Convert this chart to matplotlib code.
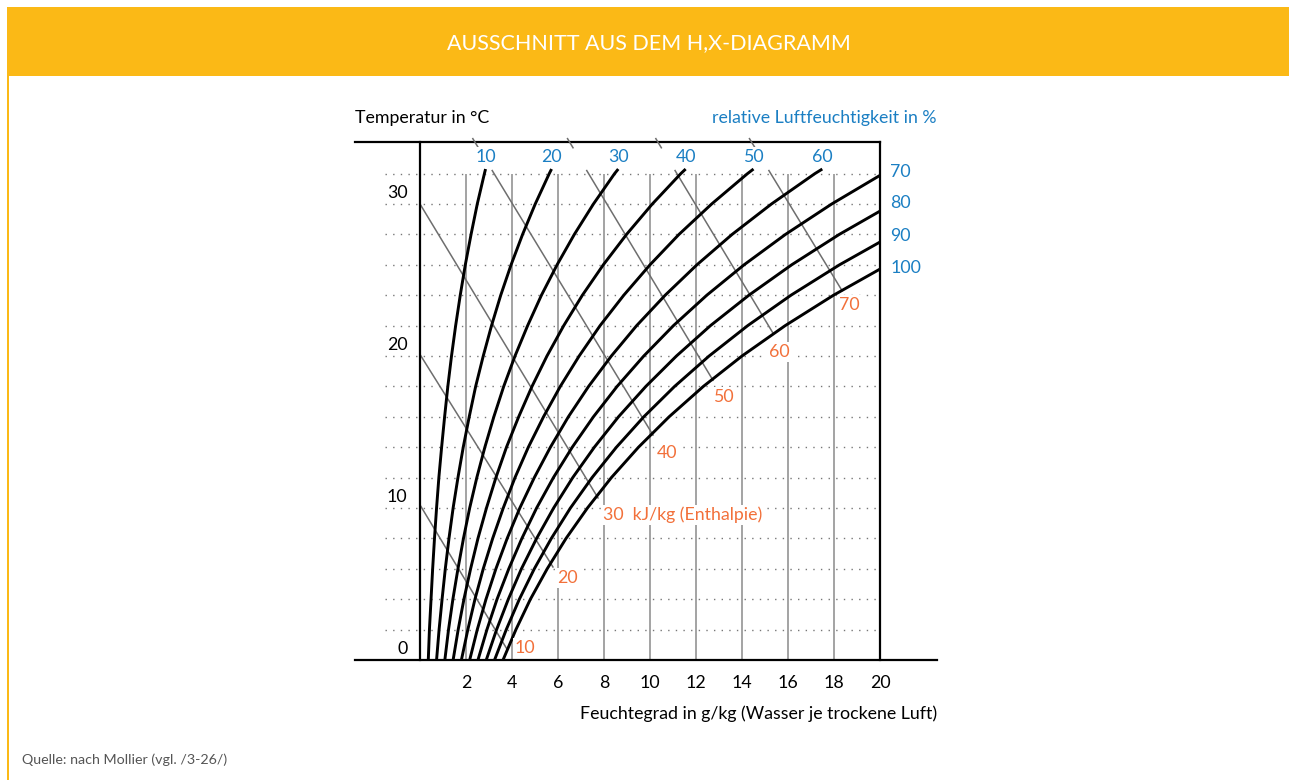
import matplotlib
matplotlib.use("Agg")
import matplotlib.pyplot as plt
from matplotlib.patches import Rectangle
from matplotlib.transforms import ScaledTranslation

plt.rcParams["font.family"] = ["Lato", "DejaVu Sans"]

W, H = 1289, 780
YELLOW = "#fbb916"
BLUE = "#1b7fc3"
ORANGE = "#f2703a"

rh_temp = [0, 2, 4, 6, 8, 10, 12, 14, 16, 18, 20, 22, 24, 26, 28, 30, 32, 32.3]
rh_levels = [10, 20, 30, 40, 50, 60, 70, 80, 90, 100]
# moisture content x (g/kg) of each relative-humidity curve at rh_temp
rh_x = [
    [0.36, 0.41, 0.48, 0.55, 0.63, 0.72, 0.82, 0.94, 1.07, 1.21, 1.37, 1.55, 1.75, 1.97, 2.22, 2.49, 2.80, 2.85],
    [0.72, 0.83, 0.96, 1.10, 1.26, 1.44, 1.65, 1.88, 2.14, 2.42, 2.75, 3.11, 3.51, 3.96, 4.46, 5.01, 5.62, 5.72],
    [1.08, 1.24, 1.43, 1.65, 1.89, 2.16, 2.47, 2.82, 3.21, 3.64, 4.13, 4.68, 5.28, 5.96, 6.71, 7.54, 8.46, 8.62],
    [1.44, 1.66, 1.91, 2.20, 2.52, 2.89, 3.30, 3.76, 4.29, 4.87, 5.52, 6.25, 7.06, 7.97, 8.98, 10.10, 11.34, 11.55],
    [1.80, 2.08, 2.39, 2.75, 3.16, 3.62, 4.13, 4.71, 5.37, 6.10, 6.92, 7.83, 8.86, 10.00, 11.26, 12.68, 14.24, 14.50],
    [2.16, 2.49, 2.87, 3.30, 3.79, 4.34, 4.97, 5.67, 6.45, 7.33, 8.32, 9.42, 10.66, 12.04, 13.57, 15.28, 17.17, 17.49],
    [2.52, 2.91, 3.35, 3.86, 4.43, 5.07, 5.80, 6.62, 7.54, 8.57, 9.73, 11.02, 12.47, 14.09, 15.89, 17.90, 20.13],
    [2.88, 3.33, 3.84, 4.41, 5.07, 5.81, 6.64, 7.58, 8.63, 9.82, 11.15, 12.63, 14.30, 16.16, 18.23, 20.54],
    [3.24, 3.75, 4.32, 4.97, 5.71, 6.54, 7.48, 8.54, 9.73, 11.07, 12.57, 14.25, 16.13, 18.24, 20.59],
    [3.61, 4.17, 4.80, 5.53, 6.35, 7.28, 8.32, 9.50, 10.83, 12.32, 14.00, 15.88, 17.98, 20.33],
]

# enthalpy lines (kJ/kg): start and end point (x g/kg, T °C)
h_levels = [10, 20, 30, 40, 50, 60, 70]
h_start_x = [0.0, 0.0, 0.0, 3.14, 7.25, 11.09, 15.17]
h_start_t = [10.2, 20.1, 30.0, 32.2, 32.2, 32.2, 32.2]
h_end_x = [3.78, 5.78, 7.74, 10.13, 12.74, 15.35, 18.35]
h_end_t = [0.72, 6.12, 10.66, 14.8, 18.4, 21.5, 24.3]
h_label_x = [4.13, 5.96, 7.96, 10.3, 12.74, 15.17, 18.22]
h_label_t = [0.79, 5.39, 9.54, 13.6, 17.3, 20.26, 23.36]

x_ticks = [2, 4, 6, 8, 10, 12, 14, 16, 18, 20]
t_ticks = [0, 10, 20, 30]
t_grid = list(range(2, 33, 2))
x_grid = [2, 4, 6, 8, 10, 12, 14, 16, 18]

fig = plt.figure(figsize=(W / 100, H / 100), dpi=100)

# header bar and left rule
fig.add_artist(Rectangle((7 / W, 1 - 76 / H), 1, 69 / H, transform=fig.transFigure,
                         color=YELLOW, lw=0))
fig.add_artist(Rectangle((7 / W, 0), 2 / W, 1 - 76 / H, transform=fig.transFigure,
                         color=YELLOW, lw=0))
fig.text(649 / W, 1 - 43 / H, "AUSSCHNITT AUS DEM H,X-DIAGRAMM", color="white",
         fontsize=15.5, ha="center", va="center")
fig.text(22 / W, 1 - 760 / H, "Quelle: nach Mollier (vgl. /3-26/)", color="#555555",
         fontsize=10.3, ha="left", va="center")

ax = fig.add_axes([420 / W, 1 - 660 / H, 460 / W, 518 / H])
ax.set_xlim(0, 20)
ax.set_ylim(0, 518 / 15.2)
for s in ["top", "bottom"]:
    ax.spines[s].set_visible(False)
for s in ["left", "right"]:
    ax.spines[s].set_linewidth(1.6)
    ax.spines[s].set_color("black")

x_left = -65 / 23
x_right = 517 / 23
ytop = 518 / 15.2
ax.plot([x_left, 20], [ytop, ytop], color="black", lw=1.6, clip_on=False)
ax.plot([x_left, x_right], [0, 0], color="black", lw=1.6, clip_on=False)

ax.hlines(t_grid, -35 / 23, 20, colors="#777777", linestyles=(0, (1, 4.5)), lw=1.0,
          clip_on=False, zorder=1)
ax.vlines(x_grid, 0, 32, colors="#8a8a8a", lw=1.1, zorder=1)

for hx0, ht0, hx1, ht1 in zip(h_start_x, h_start_t, h_end_x, h_end_t):
    ax.plot([hx0, hx1], [ht0, ht1], color="#6e6e6e", lw=1.1, zorder=2, clip_on=False)
    if ht0 > 31:
        k = (hx1 - hx0) / (ht1 - ht0)
        ax.plot([hx0 + k * (34.3 - ht0), hx0 + k * (33.7 - ht0)], [34.3, 33.7],
                color="#6e6e6e", lw=1.1, zorder=2, clip_on=False)

for xs in rh_x:
    ax.plot(xs, rh_temp[:len(xs)], color="black", lw=2.1, zorder=3,
            solid_capstyle="butt")

box = dict(facecolor="white", edgecolor="none", pad=1.5)
for lvl, xs in zip(rh_levels[:6], rh_x[:6]):
    ax.text(xs[-1], 33.1, str(lvl), color=BLUE, fontsize=12.8, ha="center",
            va="center", bbox=box, zorder=4, clip_on=False)
for lvl, t in zip(rh_levels[6:], [32.1, 30.07, 27.9, 25.8]):
    ax.text(20.45, t, str(lvl), color=BLUE, fontsize=12.8, ha="left", va="center",
            clip_on=False)

for lvl, lx, lt in zip(h_levels, h_label_x, h_label_t):
    txt = f"{lvl}  kJ/kg (Enthalpie)" if lvl == 30 else str(lvl)
    ax.text(lx, lt, txt, color=ORANGE, fontsize=12.8, ha="left", va="center",
            bbox=box, zorder=4)

ax.set_xticks(x_ticks)
ax.set_xticklabels([str(v) for v in x_ticks])
ax.tick_params(axis="x", length=0, pad=11, labelsize=12.8)
ax.set_yticks(t_ticks)
ax.set_yticklabels([str(v) for v in t_ticks])
ax.tick_params(axis="y", length=0, pad=9, labelsize=12.8)
shift = ScaledTranslation(0, 12 / 100, fig.dpi_scale_trans)
for lbl in ax.get_yticklabels():
    lbl.set_transform(lbl.get_transform() + shift)

fig.text(355 / W, 1 - 118 / H, "Temperatur in °C", fontsize=12.8, ha="left", va="center")
fig.text(937 / W, 1 - 118 / H, "relative Luftfeuchtigkeit in %", color=BLUE,
         fontsize=12.8, ha="right", va="center")
fig.text(937 / W, 1 - 714 / H, "Feuchtegrad in g/kg (Wasser je trockene Luft)",
         fontsize=12.8, ha="right", va="center")

fig.savefig("out.png", dpi=100)
